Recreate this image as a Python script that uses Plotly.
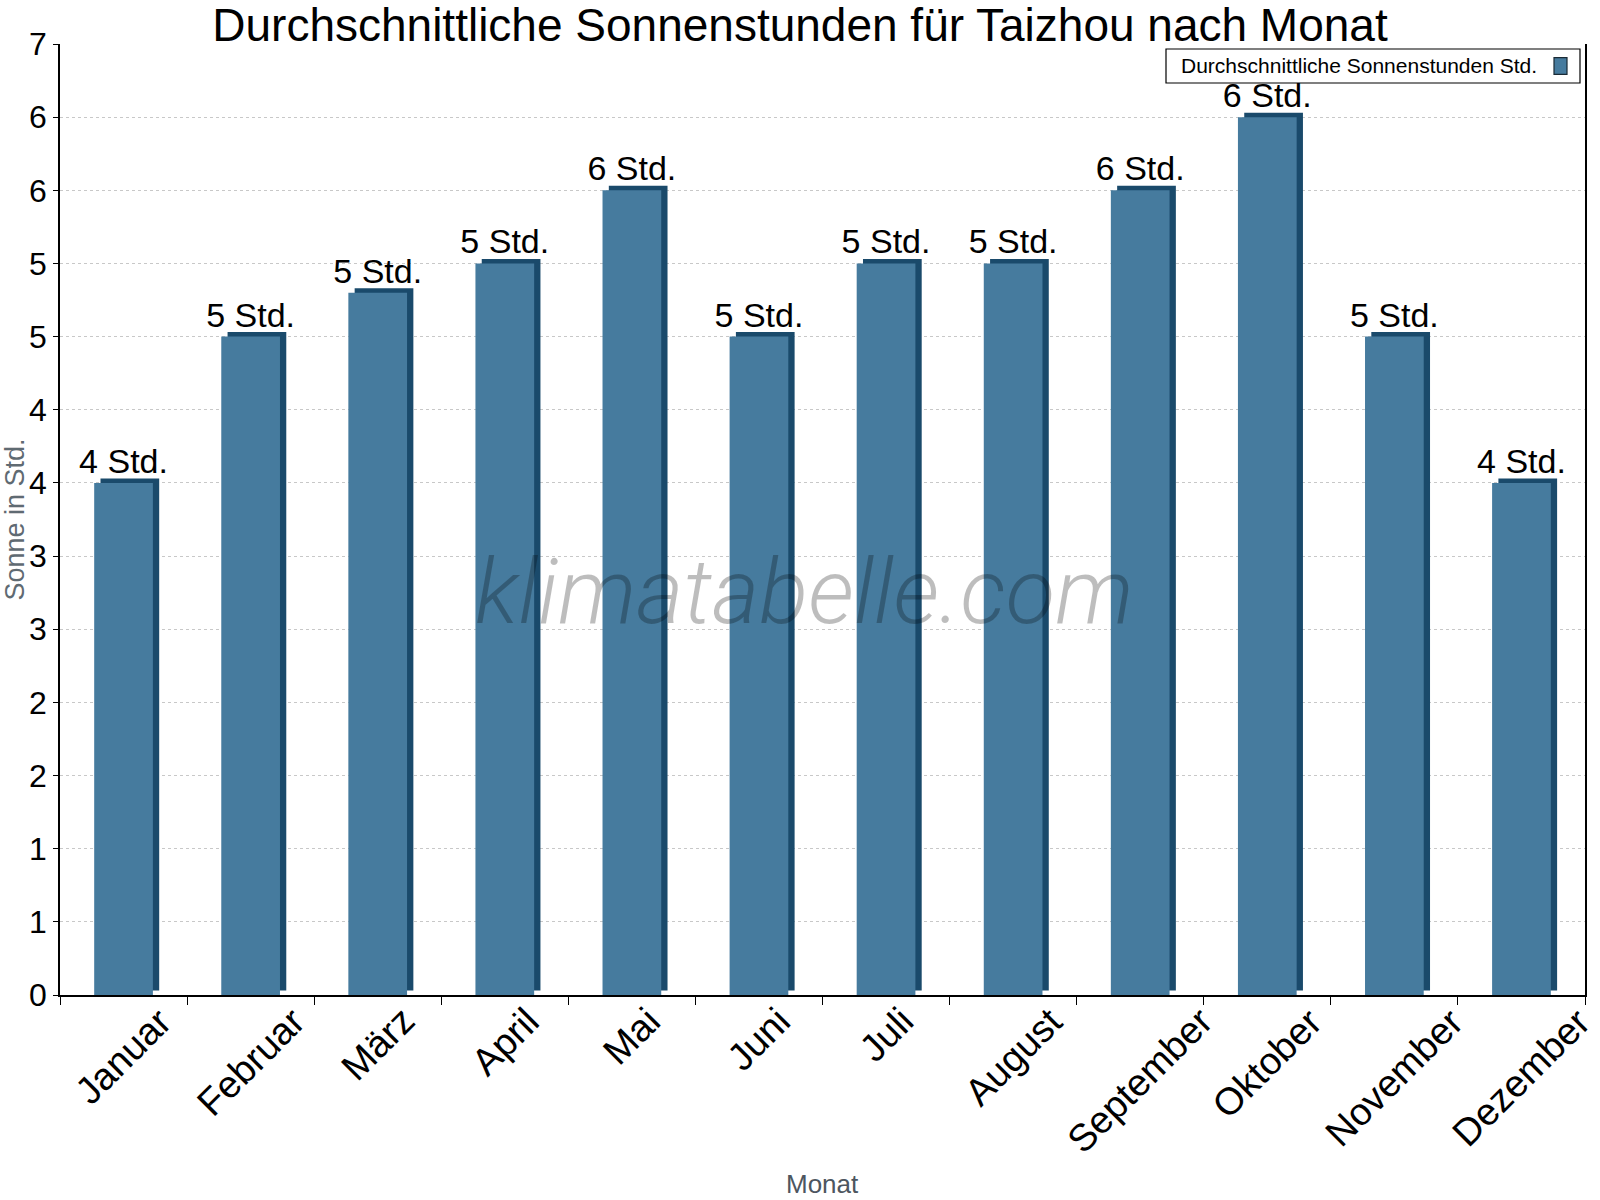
import math
import plotly.graph_objects as go

# ---- data ----
months = ["Januar", "Februar", "März", "April", "Mai", "Juni", "Juli",
          "August", "September", "Oktober", "November", "Dezember"]
sun_hours = [3.5, 4.5, 4.8, 5.0, 5.5, 4.5, 5.0, 5.0, 5.5, 6.0, 4.5, 3.5]
bar_labels = [f"{int(math.floor(v + 0.5))} Std." for v in sun_hours]
y_tickvals = [0, 0.5, 1, 1.5, 2, 2.5, 3, 3.5, 4, 4.5, 5, 5.5, 6, 6.5]
y_ticktext = ["0", "1", "1", "2", "2", "3", "3", "4", "4", "5", "5", "6", "6", "7"]
series_name = "Durchschnittliche Sonnenstunden Std."

# ---- style ----
FONT = "Liberation Sans, Arial, sans-serif"
MAIN = "#467B9E"
DARK = "#1A4A6B"
W, H = 1600, 1200
L, R, T, B = 60, 15, 44, 205
plot_w = W - L - R
plot_h = H - T - B
y_max = 6.5
depth_y = 4.5 * y_max / plot_h          # 3D extrusion (data units)
depth_x = 6.3 * len(months) / plot_w    # 3D extrusion (category units)
bar_w = 0.462


def px_x(px):
    return (px - L) / plot_w


def px_y(py):
    return (H - B - py) / plot_h


fig = go.Figure()

# dark extruded "back" of the bars
fig.add_trace(go.Bar(
    x=months, y=sun_hours, base=[depth_y] * len(months),
    width=bar_w, offset=-bar_w / 2 + depth_x,
    marker=dict(color=DARK, line=dict(width=0)),
    showlegend=False, hoverinfo="skip",
))
# front face (with value labels)
fig.add_trace(go.Bar(
    x=months, y=sun_hours, name=series_name,
    width=bar_w, offset=-bar_w / 2,
    marker=dict(color=MAIN, line=dict(width=0)),
    text=bar_labels, textposition="outside", constraintext="none",
    textfont=dict(family=FONT, size=34, color="black"),
    cliponaxis=False, showlegend=False,
))

fig.update_layout(
    width=W, height=H,
    margin=dict(l=L, r=R, t=T, b=B, autoexpand=False),
    paper_bgcolor="white", plot_bgcolor="white",
    barmode="overlay",
    showlegend=False,
    font=dict(family=FONT, color="black"),
    title=dict(text="Durchschnittliche Sonnenstunden für Taizhou nach Monat",
               x=0.5, xref="container", xanchor="center",
               y=1 - 25 / H, yref="container", yanchor="middle",
               font=dict(family=FONT, size=46, color="black")),
    xaxis=dict(
        type="category", range=[-0.5, len(months) - 0.5],
        showgrid=False, tickson="boundaries",
        ticks="outside", ticklen=8, tickcolor="black", tickwidth=1.2,
        showline=True, linecolor="black", linewidth=1.5,
        showticklabels=False,
        automargin=False,
    ),
    yaxis=dict(
        range=[0, y_max], tickmode="array", tickvals=y_tickvals, ticktext=y_ticktext,
        showgrid=True, gridcolor="#c8c8c8", griddash="dot", gridwidth=1,
        zeroline=False,
        ticks="outside", ticklen=5, tickcolor="black", tickwidth=1.2,
        showline=True, linecolor="black", linewidth=1.5, mirror=True,
        tickfont=dict(family=FONT, size=32, color="black"),
        title=dict(text="Sonne in Std.", font=dict(family=FONT, size=27, color="#5f6a72"),
                   standoff=2),
        automargin=False,
    ),
)

# rotated month labels, centred under each category (as in the original)
for m in months:
    fig.add_annotation(
        text=m, x=m, xref="x", y=px_y(997), yref="paper",
        showarrow=False, xanchor="center", yanchor="top", textangle=-45,
        font=dict(family=FONT, size=38, color="black"),
    )

# x axis title
fig.add_annotation(
    text="Monat", x=0.5, y=px_y(1184), xref="paper", yref="paper",
    showarrow=False, xanchor="center", yanchor="middle",
    font=dict(family=FONT, size=26, color="#4d5660"),
)

# watermark
fig.add_annotation(
    text="klimatabelle.com", x=px_x(804), y=px_y(592), xref="paper", yref="paper",
    showarrow=False, xanchor="center", yanchor="middle",
    font=dict(family="Roboto", size=91, color="rgba(0,0,0,0.26)", weight=300, style="italic"),
)

# legend box (symbol on the right, as in the original)
fig.add_shape(type="rect", xref="paper", yref="paper",
              x0=px_x(1166), x1=px_x(1580), y0=px_y(83), y1=px_y(49),
              line=dict(color="black", width=1.2), fillcolor="white", layer="above")
fig.add_annotation(
    text=series_name, x=px_x(1179), y=px_y(66), xref="paper", yref="paper",
    showarrow=False, xanchor="left", yanchor="middle",
    font=dict(family=FONT, size=21, color="black"),
)
fig.add_shape(type="rect", xref="paper", yref="paper",
              x0=px_x(1554), x1=px_x(1567), y0=px_y(74.3), y1=px_y(57.7),
              line=dict(color="#1a2a35", width=1.2), fillcolor=MAIN, layer="above")

fig.write_html("out.html", config={"displayModeBar": False},
               post_script="document.body.style.margin='0';")
